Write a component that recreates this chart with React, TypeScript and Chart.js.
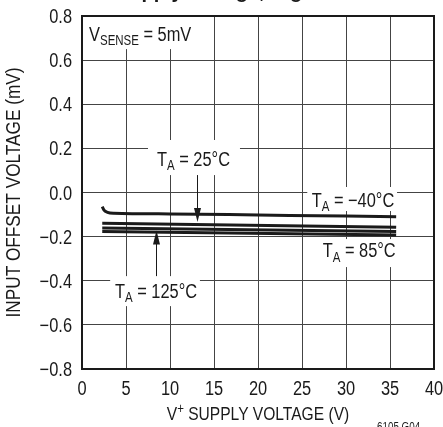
import { useEffect, useRef } from 'react';
import { Chart, registerables } from 'chart.js';

Chart.register(...registerables);

// ---------- data ----------
const supplyM40 = [2.3, 2.5, 2.9, 3.6, 10, 20, 30, 35.7];
const offsetM40 = [-0.064, -0.08, -0.09, -0.094, -0.097, -0.102, -0.107, -0.11];
const supplyV = [2.3, 35.7];
const offset25 = [-0.139, -0.158];
const offset125 = [-0.161, -0.177];
const offset85 = [-0.177, -0.193];

const xMin = 0;
const xMax = 40;
const xStep = 5;
const yMin = -0.8;
const yMax = 0.8;
const yStep = 0.2;

const xTitleMain = 'V';
const xTitleSup = '+';
const xTitleRest = ' SUPPLY VOLTAGE (V)';
const yTitle = 'INPUT OFFSET VOLTAGE (mV)';
const headerText = 'Supply Voltage, High';
const figId = '6105 G04';

const FONT = "'Liberation Sans', Arial, Helvetica, sans-serif";
const SQ = 0.82; // horizontal condensing of all text
const INK = '#1a1a1a';

// annotation layout (data units)
type Part = [string, 'n' | 'sub' | 'sup'];
const annotations: {
  parts: Part[];
  x: number;
  y: number;
  box: [number, number, number, number];
  arrow?: [number, number, number];
}[] = [
  { parts: [['V', 'n'], ['SENSE', 'sub'], [' = 5mV', 'n']], x: 0.8, y: 0.687, box: [0.1, 0.796, 13.4, 0.65] },
  { parts: [['T', 'n'], ['A', 'sub'], [' = 25°C', 'n']], x: 8.52, y: 0.12, box: [7.5, 0.238, 17.95, 0.079], arrow: [13.03, 0.079, -0.134] },
  { parts: [['T', 'n'], ['A', 'sub'], [' = −40°C', 'n']], x: 26.1, y: -0.064, box: [25.6, 0.025, 35.8, -0.084] },
  { parts: [['T', 'n'], ['A', 'sub'], [' = 85°C', 'n']], x: 27.35, y: -0.294, box: [26.6, -0.211, 35.8, -0.338] },
  { parts: [['T', 'n'], ['A', 'sub'], [' = 125°C', 'n']], x: 3.75, y: -0.478, box: [3.2, -0.379, 13.4, -0.515], arrow: [8.375, -0.379, -0.172] },
];

function drawText(ctx: CanvasRenderingContext2D, t: string, x: number, y: number, font: string, align: CanvasTextAlign) {
  ctx.save();
  ctx.translate(x, y);
  ctx.scale(SQ, 1);
  ctx.font = font;
  ctx.textAlign = align;
  ctx.textBaseline = 'alphabetic';
  ctx.fillText(t, 0, 0);
  ctx.restore();
}

function drawParts(ctx: CanvasRenderingContext2D, parts: Part[], x: number, y: number, size: number, align: 'left' | 'center') {
  const subSize = Math.round(size * 0.72);
  const fontFor = (k: string) => `${k === 'n' ? size : subSize}px ${FONT}`;
  let total = 0;
  for (const [t, k] of parts) {
    ctx.font = fontFor(k);
    total += ctx.measureText(t).width * SQ;
  }
  let cx = align === 'center' ? x - total / 2 : x;
  for (const [t, k] of parts) {
    const dy = k === 'sub' ? size * 0.22 : k === 'sup' ? -size * 0.38 : 0;
    drawText(ctx, t, cx, y + dy, fontFor(k), 'left');
    ctx.font = fontFor(k);
    cx += ctx.measureText(t).width * SQ;
  }
}

function fmt(v: number) {
  if (Math.abs(v) < 1e-9) return '0.0';
  return v.toFixed(1).replace('-', '−');
}

const decorPlugin = {
  id: 'decor',
  beforeDatasetsDraw(chart: any) {
    const { ctx } = chart;
    const xs = chart.scales.x;
    const ys = chart.scales.y;
    ctx.save();
    ctx.fillStyle = '#ffffff';
    for (const a of annotations) {
      const x0 = xs.getPixelForValue(a.box[0]);
      const y0 = ys.getPixelForValue(a.box[1]);
      const x1 = xs.getPixelForValue(a.box[2]);
      const y1 = ys.getPixelForValue(a.box[3]);
      ctx.fillRect(x0, y0, x1 - x0, y1 - y0);
    }
    ctx.restore();
  },
  afterDatasetsDraw(chart: any) {
    const { ctx, chartArea } = chart;
    const xs = chart.scales.x;
    const ys = chart.scales.y;
    ctx.save();
    // frame
    ctx.strokeStyle = INK;
    ctx.lineWidth = 2;
    ctx.strokeRect(chartArea.left, chartArea.top, chartArea.right - chartArea.left, chartArea.bottom - chartArea.top);

    ctx.fillStyle = INK;

    // tick labels from the library's scales
    const tickFont = `20px ${FONT}`;
    for (const t of xs.ticks) {
      drawText(ctx, String(t.value), xs.getPixelForValue(t.value), chartArea.bottom + 26, tickFont, 'center');
    }
    for (const t of ys.ticks) {
      drawText(ctx, fmt(t.value), chartArea.left - 10, ys.getPixelForValue(t.value) + 7, tickFont, 'right');
    }

    for (const a of annotations) {
      drawParts(ctx, a.parts, xs.getPixelForValue(a.x), ys.getPixelForValue(a.y), 20, 'left');
      if (a.arrow) {
        const ax = Math.round(xs.getPixelForValue(a.arrow[0])) + 0.5;
        const ay0 = ys.getPixelForValue(a.arrow[1]);
        const ay1 = ys.getPixelForValue(a.arrow[2]);
        const dir = ay1 > ay0 ? 1 : -1;
        ctx.strokeStyle = INK;
        ctx.lineWidth = 1;
        ctx.beginPath();
        ctx.moveTo(ax, ay0);
        ctx.lineTo(ax, ay1 - dir * 10);
        ctx.stroke();
        ctx.beginPath();
        ctx.moveTo(ax, ay1);
        ctx.lineTo(ax - 3.5, ay1 - dir * 14);
        ctx.lineTo(ax + 3.5, ay1 - dir * 14);
        ctx.closePath();
        ctx.fill();
      }
    }

    // axis titles
    drawParts(ctx, [[xTitleMain, 'n'], [xTitleSup, 'sup'], [xTitleRest, 'n']], (chartArea.left + chartArea.right) / 2, 420, 19, 'center');
    ctx.save();
    ctx.translate(20, (chartArea.top + chartArea.bottom) / 2);
    ctx.rotate(-Math.PI / 2);
    drawText(ctx, yTitle, 0, 0, `21px ${FONT}`, 'center');
    ctx.restore();

    // figure id (clipped at the bottom)
    drawText(ctx, figId, 377, 431, `12px ${FONT}`, 'left');

    // header (mostly clipped at the top)
    ctx.font = `bold 20px ${FONT}`;
    ctx.textAlign = 'left';
    ctx.textBaseline = 'alphabetic';
    ctx.fillText(headerText, 116, -2);
    ctx.restore();
  },
};

export default function App() {
  const ref = useRef<HTMLCanvasElement>(null);
  useEffect(() => {
    if (!ref.current) return;
    const line = (xsArr: number[], ysArr: number[], label: string, mono = false) => ({
      label,
      data: xsArr.map((x, i) => ({ x, y: ysArr[i] })),
      borderColor: INK,
      borderWidth: 3,
      pointRadius: 0,
      fill: false,
      borderCapStyle: 'butt' as const,
      cubicInterpolationMode: mono ? ('monotone' as const) : ('default' as const),
    });
    const chart = new Chart(ref.current, {
      type: 'line',
      data: {
        datasets: [
          line(supplyM40, offsetM40, 'TA = −40°C', true),
          line(supplyV, offset25, 'TA = 25°C'),
          line(supplyV, offset125, 'TA = 125°C'),
          line(supplyV, offset85, 'TA = 85°C'),
        ],
      },
      options: {
        animation: false,
        responsive: false,
        devicePixelRatio: 1,
        layout: { padding: { left: 0, right: 9, top: 16, bottom: 0 } },
        plugins: { legend: { display: false }, tooltip: { enabled: false }, title: { display: false } },
        scales: {
          x: {
            type: 'linear',
            min: xMin,
            max: xMax,
            afterFit: (s: any) => { s.height = 58; },
            ticks: { stepSize: xStep, display: false },
            grid: { color: '#444', lineWidth: 1, drawTicks: false },
            border: { display: false },
          },
          y: {
            type: 'linear',
            min: yMin,
            max: yMax,
            afterFit: (s: any) => { s.width = 82; },
            ticks: { stepSize: yStep, display: false },
            grid: { color: '#444', lineWidth: 1, drawTicks: false },
            border: { display: false },
          },
        },
      },
      plugins: [decorPlugin],
    });
    return () => chart.destroy();
  }, []);
  return (
    <div style={{ position: 'fixed', left: 0, top: 0, width: 443, height: 427, background: '#fff' }}>
      <canvas ref={ref} width={443} height={427} style={{ display: 'block' }} />
    </div>
  );
}
